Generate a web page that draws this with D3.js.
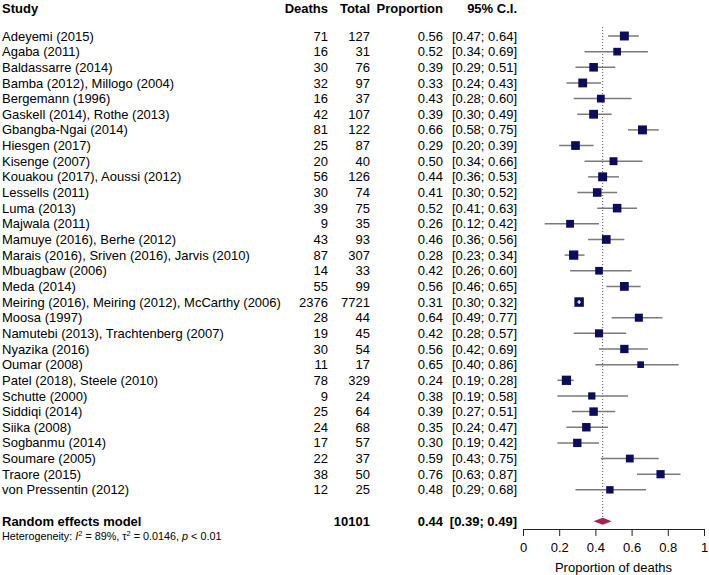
<!DOCTYPE html>
<html>
<head>
<meta charset="utf-8">
<script src="https://cdn.jsdelivr.net/npm/d3@7"></script>
<style>
  body { margin: 0; background: #fff; }
  svg text { font-family: "Liberation Sans", Arial, sans-serif; fill: #000; }
</style>
</head>
<body>
<div id="chart"></div>
<script>
// study data
var studies = ["Adeyemi (2015)", "Agaba (2011)", "Baldassarre (2014)", "Bamba (2012), Millogo (2004)",
  "Bergemann (1996)", "Gaskell (2014), Rothe (2013)", "Gbangba-Ngai (2014)", "Hiesgen (2017)",
  "Kisenge (2007)", "Kouakou (2017), Aoussi (2012)", "Lessells (2011)", "Luma (2013)",
  "Majwala (2011)", "Mamuye (2016), Berhe (2012)", "Marais (2016), Sriven (2016), Jarvis (2010)",
  "Mbuagbaw (2006)", "Meda (2014)", "Meiring (2016), Meiring (2012), McCarthy (2006)",
  "Moosa (1997)", "Namutebi (2013), Trachtenberg (2007)", "Nyazika (2016)", "Oumar (2008)",
  "Patel (2018), Steele (2010)", "Schutte (2000)", "Siddiqi (2014)", "Siika (2008)",
  "Sogbanmu (2014)", "Soumare (2005)", "Traore (2015)", "von Pressentin (2012)"];
var deaths = [71, 16, 30, 32, 16, 42, 81, 25, 20, 56, 30, 39, 9, 43, 87, 14, 55, 2376, 28, 19, 30, 11, 78, 9, 25, 24, 17, 22, 38, 12];
var totals = [127, 31, 76, 97, 37, 107, 122, 87, 40, 126, 74, 75, 35, 93, 307, 33, 99, 7721, 44, 45, 54, 17, 329, 24, 64, 68, 57, 37, 50, 25];
var props = [0.56, 0.52, 0.39, 0.33, 0.43, 0.39, 0.66, 0.29, 0.50, 0.44, 0.41, 0.52, 0.26, 0.46, 0.28, 0.42, 0.56, 0.31, 0.64, 0.42, 0.56, 0.65, 0.24, 0.38, 0.39, 0.35, 0.30, 0.59, 0.76, 0.48];
var lower = [0.47, 0.34, 0.29, 0.24, 0.28, 0.30, 0.58, 0.20, 0.34, 0.36, 0.30, 0.41, 0.12, 0.36, 0.23, 0.26, 0.46, 0.30, 0.49, 0.28, 0.42, 0.40, 0.19, 0.19, 0.27, 0.24, 0.19, 0.43, 0.63, 0.29];
var upper = [0.64, 0.69, 0.51, 0.43, 0.60, 0.49, 0.75, 0.39, 0.66, 0.53, 0.52, 0.63, 0.42, 0.56, 0.34, 0.60, 0.65, 0.32, 0.77, 0.57, 0.69, 0.86, 0.28, 0.58, 0.51, 0.47, 0.42, 0.75, 0.87, 0.68];
// approx random effects weights (%)
var weights = [3.8, 2.8, 3.5, 3.7, 2.9, 3.7, 3.8, 3.6, 3.0, 3.8, 3.5, 3.5, 2.9, 3.6, 4.1, 2.8, 3.7, 4.3, 3.1, 3.1, 3.3, 2.1, 4.1, 2.5, 3.4, 3.4, 3.3, 2.9, 3.2, 2.6];

var pooled = { label: "Random effects model", total: 10101, est: 0.44, lo: 0.39, hi: 0.49 };
var headers = ["Study", "Deaths", "Total", "Proportion", "95% C.I."];
var xTicks = [0, 0.2, 0.4, 0.6, 0.8, 1];
var xLabel = "Proportion of deaths";

var svgWidth = 709, svgHeight = 575;

var svg = d3.select("#chart").append("svg")
  .attr("width", svgWidth)
  .attr("height", svgHeight);

var fmt = d3.format(".2f");

// scales
var x = d3.scaleLinear().domain([0, 1]).range([523, 704]);
var y = d3.scaleLinear().domain([0, studies.length + 1]).range([36, 36 + (studies.length + 1) * 15.65]);
var boxSize = d3.scaleSqrt().domain([0, d3.max(weights)]).range([0, 9.5]);

// column right edges
var colDeaths = 328, colTotal = 370, colProp = 443, colCI = 517;

// headers
var head = svg.append("g").attr("font-weight", "bold").attr("font-size", 13);
head.append("text").attr("x", 2).attr("y", 8).attr("dy", "0.35em").text(headers[0]);
[colDeaths, colTotal, colProp, colCI].forEach(function(cx, i) {
  head.append("text").attr("x", cx).attr("y", 8).attr("dy", "0.35em")
    .attr("text-anchor", "end").text(headers[i + 1]);
});

// table rows
var rows = svg.append("g").attr("font-size", 13);
studies.forEach(function(s, i) {
  var yy = y(i);
  rows.append("text").attr("x", 2).attr("y", yy).attr("dy", "0.35em").text(s);
  rows.append("text").attr("x", colDeaths).attr("y", yy).attr("dy", "0.35em").attr("text-anchor", "end").text(deaths[i]);
  rows.append("text").attr("x", colTotal).attr("y", yy).attr("dy", "0.35em").attr("text-anchor", "end").text(totals[i]);
  rows.append("text").attr("x", colProp).attr("y", yy).attr("dy", "0.35em").attr("text-anchor", "end").text(fmt(props[i]));
  rows.append("text").attr("x", colCI).attr("y", yy).attr("dy", "0.35em").attr("text-anchor", "end")
    .text("[" + fmt(lower[i]) + "; " + fmt(upper[i]) + "]");
});

// pooled row
var py = y(studies.length + 1);
var pr = svg.append("g").attr("font-size", 13).attr("font-weight", "bold");
pr.append("text").attr("x", 2).attr("y", py).attr("dy", "0.35em").text(pooled.label);
pr.append("text").attr("x", colTotal).attr("y", py).attr("dy", "0.35em").attr("text-anchor", "end").text(pooled.total);
pr.append("text").attr("x", colProp).attr("y", py).attr("dy", "0.35em").attr("text-anchor", "end").text(fmt(pooled.est));
pr.append("text").attr("x", colCI).attr("y", py).attr("dy", "0.35em").attr("text-anchor", "end")
  .text("[" + fmt(pooled.lo) + "; " + fmt(pooled.hi) + "]");

// heterogeneity line
var het = svg.append("text").attr("x", 2).attr("y", py + 15).attr("dy", "0.35em").attr("font-size", 10.8);
het.append("tspan").text("Heterogeneity: ");
het.append("tspan").attr("font-style", "italic").text("I");
het.append("tspan").attr("font-size", 7.5).attr("dy", "-4").text("2");
het.append("tspan").attr("dy", "4").text(" = 89%, \u03c4");
het.append("tspan").attr("font-size", 7.5).attr("dy", "-4").text("2");
het.append("tspan").attr("dy", "4").text(" = 0.0146, ");
het.append("tspan").attr("font-style", "italic").text("p");
het.append("tspan").text(" < 0.01");

// reference line at pooled estimate
svg.append("line")
  .attr("x1", x(pooled.est)).attr("x2", x(pooled.est))
  .attr("y1", 27).attr("y2", py - 4)
  .attr("stroke", "#555").attr("stroke-width", 1)
  .attr("stroke-dasharray", "1,2");

// CI lines and boxes
var marks = svg.append("g");
studies.forEach(function(s, i) {
  var yy = y(i);
  var half = boxSize(weights[i]) / 2;
  marks.append("line")
    .attr("x1", x(lower[i])).attr("x2", x(upper[i]))
    .attr("y1", yy).attr("y2", yy)
    .attr("stroke", "#7a7a7a").attr("stroke-width", 1.5);
  marks.append("rect")
    .attr("x", x(props[i]) - half).attr("y", yy - half)
    .attr("width", half * 2).attr("height", half * 2)
    .attr("fill", "#0c0c5a");
  // CI inside the box: draw it white
  if (x(props[i]) - x(lower[i]) < half && x(upper[i]) - x(props[i]) < half) {
    marks.append("line")
      .attr("x1", x(lower[i])).attr("x2", x(upper[i]))
      .attr("y1", yy).attr("y2", yy)
      .attr("stroke", "#fff").attr("stroke-width", 1.2);
    marks.append("line")
      .attr("x1", x(props[i])).attr("x2", x(props[i]))
      .attr("y1", yy - 2).attr("y2", yy + 2)
      .attr("stroke", "#fff").attr("stroke-width", 1.2);
  }
});

// pooled diamond
var dh = 3.5;
svg.append("path")
  .attr("d", "M" + x(pooled.lo) + "," + py +
    "L" + x(pooled.est) + "," + (py - dh) +
    "L" + x(pooled.hi) + "," + py +
    "L" + x(pooled.est) + "," + (py + dh) + "Z")
  .attr("fill", "#a3234d");

// x axis
var xAxis = d3.axisBottom(x).tickValues(xTicks).tickFormat(d3.format("")).tickSize(7).tickSizeOuter(0).tickPadding(7);
var ax = svg.append("g")
  .attr("transform", "translate(0," + 529 + ")")
  .call(xAxis);
ax.selectAll("path, line").attr("stroke", "#222");
ax.selectAll("text").attr("font-size", 13).attr("font-family", "Liberation Sans, Arial, sans-serif").attr("fill", "#000");

svg.append("text")
  .attr("x", x(0.5)).attr("y", 567).attr("dy", "0.35em")
  .attr("text-anchor", "middle").attr("font-size", 13)
  .text(xLabel);
</script>
</body>
</html>
